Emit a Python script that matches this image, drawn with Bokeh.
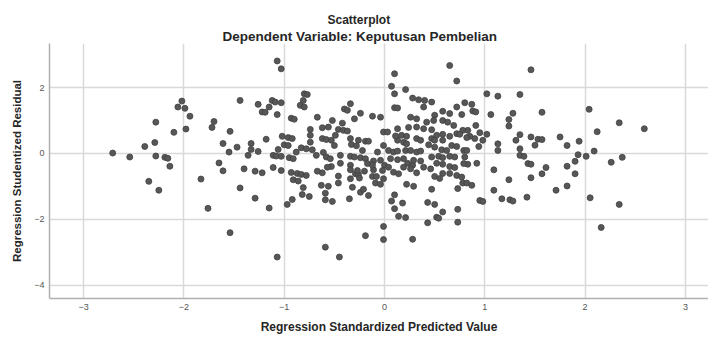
from bokeh.plotting import figure
from bokeh.models import Range1d, FixedTicker, Title, ColumnDataSource
from bokeh.embed import file_html
from bokeh.resources import INLINE

title_text = "Scatterplot"
subtitle_text = "Dependent Variable: Keputusan Pembelian"
x_label = "Regression Standardized Predicted Value"
y_label = "Regression Studentized Residual"
x_ticks = [-3, -2, -1, 0, 1, 2, 3]
y_ticks = [-4, -2, 0, 2]

predicted = [
    -2.71, -2.54, -2.28, -2.10, -2.02, -2.06, -1.99, -1.94, -1.98, -2.29,
    -2.39, -2.28, -2.19, -2.16, -2.14, -2.35, -2.25, -1.83, -1.70, -1.72,
    -1.54, -1.44, -1.26, -1.22, -1.19, -1.15, -1.18, -1.61, -1.55, -1.47,
    -1.33, -1.33, -1.36, -1.26, -1.65, -1.61, -1.40, -1.29, -1.22, -1.44,
    -1.29, -1.76, -1.15, -1.54, -1.11, -1.03, -0.93, -0.87, -0.83, -0.78,
    -0.91, -0.86, -0.81, -0.82, -0.75, -0.92, -0.97, -0.59, -0.52, -0.63,
    -0.56, -0.59, -0.46, -0.46, -0.53, -0.35, -0.24, -0.16, -0.32, -0.21,
    -0.09, -0.04, -0.12, -0.08, -0.01, -0.01, -0.19, -0.01, 0.28, -0.59,
    -0.45, -1.07, 0.10, 0.07, 0.18, 0.10, 0.14, 0.21, 0.43, 0.50,
    0.47, 0.58, 0.52, 0.54, 0.43, 0.73, 0.73, 0.73, 0.78, 0.32,
    0.22, 0.29, 0.50, 0.55, 0.58, 0.65, 0.72, 0.77, 0.52, 0.58,
    0.65, 0.70, 0.23, 0.28, 0.00, -0.34, -0.29, -0.26, -0.34, -0.25,
    -0.11, -0.02, -0.62, 0.83, 1.09, 1.24, 1.09, 1.17, 1.25, 1.28,
    0.95, 0.98, 1.42, 1.46, 1.43, 1.46, 1.57, 1.61, 1.82, 1.90,
    1.90, 1.71, 1.82, 2.05, 2.34, 2.16, 2.26, 0.82, 0.87, 1.46,
    1.02, 1.13, 1.35, 0.80, 0.87, 0.88, 0.91, 0.77, 1.06, 1.28,
    1.24, 1.24, 1.57, 2.04, 2.34, 2.59, 2.12, 0.91, 0.83, 0.85,
    0.95, 1.02, 0.90, 0.82, 0.98, 1.13, 0.94, 1.13, 1.35, 1.31,
    1.46, 1.53, 1.57, 1.50, 1.35, 1.35, 1.39, 1.75, 1.82, 1.94,
    2.09, 1.93, 2.01, 2.37, 0.80, 0.72, -1.07, -1.03, 0.65, 0.10,
    0.07, 0.10, 0.21, 0.28, 0.34, 0.40, 0.47, 0.39, 0.50, 0.58,
    0.65, 0.72, 0.10, 0.13, -0.80, -0.77, -0.81, -0.84, -0.80, -1.12,
    -1.09, -1.03, -1.07, -0.93, -0.90, -0.67, -0.34, -0.40, -0.37, -0.24,
    -0.30, -0.12, -0.04, -0.52, -0.42, -0.56, -0.74, -0.46, -0.41, -0.37,
    -0.01, 0.03, -0.74, -1.02, -0.96, -0.92, -1.06, -1.00, -0.96, -0.74,
    -0.62, -0.58, -0.53, -0.50, -0.83, -0.78, -0.72, -0.49, -0.34, -0.26,
    -0.19, -0.16, -0.33, -0.28, -0.22, -0.24, -0.19, 0.13, 0.17, 0.22,
    0.24, 0.32, 0.39, 0.47, 0.32, 0.42, 0.49, 0.26, 0.58, 0.63,
    0.69, 0.78, 0.72, 0.75, 0.13, 0.19, 0.22, 0.32, 0.36, 0.47,
    0.50, 0.58, 0.67, 0.72, -0.01, 0.04, 0.09, 0.13, 0.21, 0.26,
    0.32, 0.36, 0.50, 0.57, 0.62, 0.79, 0.82, -1.11, -1.08, -1.03,
    -0.95, -0.91, -0.58, -0.54, -0.68, -0.44, -0.34, -0.30, -0.11, -0.04,
    0.06, 0.13, 0.19, 0.29, 0.36, 0.47, 0.54, 0.58, 0.65, 0.70,
    -0.67, -0.57, -0.34, -0.27, -0.20, -0.17, -0.12, 0.04, 0.19, 0.26,
    0.39, 0.46, 0.79, -0.61, -0.44, -0.07, 0.11, 0.52, 0.44, 0.58,
    0.65, 0.92, 0.09, 0.14, -0.88, -0.62,
]

residual = [
    0.01, -0.11, 0.95, 0.64, 1.59, 1.41, 1.37, 1.13, 0.74, 0.33,
    0.21, -0.08, -0.12, -0.15, -0.39, -0.85, -1.12, -0.78, 0.97, 0.79,
    0.67, 1.61, 1.49, 1.26, 1.25, 1.41, 0.43, 0.30, 0.04, 0.19,
    0.30, 0.12, -0.06, 0.06, -0.29, -0.53, -0.47, -0.54, -0.59, -1.05,
    -1.36, -1.67, -1.66, -2.41, -0.43, -0.52, -0.58, -0.61, -0.64, -0.67,
    -0.80, -0.84, -1.04, -1.25, -1.31, -1.40, -1.55, -1.41, -1.46, -0.97,
    -1.00, -1.21, -0.69, -0.90, -0.40, -1.38, -1.18, -1.28, -1.03, -1.09,
    -0.90, -0.94, -0.70, -0.70, -0.77, -2.22, -2.50, -2.62, -2.61, -2.85,
    -3.15, -3.15, -1.26, -1.45, -1.51, -1.68, -1.91, -1.95, -1.49, -1.55,
    -1.09, -1.78, -1.94, -1.97, -2.11, -1.70, -2.09, -1.07, -0.90, -0.59,
    -0.94, -1.00, -0.70, -0.76, -0.61, -0.61, -0.67, -0.72, -0.30, -0.33,
    -0.40, -0.43, -0.30, -0.36, -0.36, -0.36, -0.62, -0.64, -0.77, -0.75,
    -0.50, -0.52, -0.59, -0.33, -0.50, -0.80, -1.12, -1.38, -1.41, -1.45,
    -1.43, -1.46, -1.33, -0.74, -0.31, -0.33, -0.62, -0.43, -0.39, -0.62,
    -0.24, -1.12, -0.99, -1.35, -1.55, -2.25, -0.27, -0.90, -0.97, 2.54,
    1.81, 1.74, 1.79, 1.54, 1.49, 1.29, 1.26, 1.18, 1.18, 1.22,
    1.03, 0.83, 1.25, 1.34, 0.93, 0.75, 0.66, 0.85, 0.70, 0.52,
    0.63, 0.58, 0.45, 0.48, 0.40, 0.29, 0.21, 0.09, 0.57, 0.40,
    0.50, 0.43, 0.42, 0.25, 0.14, -0.06, -0.09, 0.50, 0.24, 0.37,
    0.07, -0.04, -0.09, -0.12, -0.11, 2.20, 2.81, 2.57, 2.67, 2.42,
    2.04, 1.81, 1.94, 1.68, 1.63, 1.61, 1.56, 1.41, 1.16, 1.28,
    1.21, 1.41, 1.39, 1.38, 1.81, 1.79, 1.61, 1.46, 1.41, 1.61,
    1.56, 1.54, 1.18, 1.07, 1.04, 1.10, 1.51, 1.35, 1.31, 1.22,
    1.05, 1.13, 1.10, 1.00, 0.92, 0.80, 0.73, 0.73, 0.70, 0.68,
    0.65, 0.65, 0.55, 0.52, 0.48, 0.45, 0.12, 0.26, 0.24, 0.34,
    0.45, 0.42, 0.40, 0.24, 0.17, 0.14, 0.11, 0.55, 0.45, 0.40,
    0.37, 0.37, 0.27, 0.23, 0.09, -0.13, -0.16, 0.75, 0.55, 0.52,
    0.79, 0.80, 0.75, 0.72, 1.05, 0.95, 1.00, 1.10, 1.00, 0.95,
    0.85, 0.70, 0.60, 0.58, 0.40, 0.34, 0.29, 0.45, 0.40, 0.45,
    0.40, 0.40, 0.24, 0.21, 0.24, 0.09, 0.04, 0.07, 0.09, 0.09,
    0.04, 0.07, 0.19, 0.11, 0.09, 0.09, 0.09, -0.06, -0.08, -0.09,
    -0.13, -0.16, -0.11, -0.16, -0.06, -0.06, -0.09, -0.11, -0.23, -0.21,
    -0.16, -0.19, -0.16, -0.21, -0.23, -0.11, -0.09, -0.13, -0.09, -0.11,
    -0.54, -0.42, -0.50, -0.52, -0.54, -0.31, -0.36, -0.42, -0.42, -0.47,
    -0.42, -0.47, -0.31, 0.03, -0.30, 0.04, 0.53, 0.55, 0.26, 0.58,
    0.52, -0.30, -0.57, -0.62, 0.04, 0.78,
]

n = min(len(predicted), len(residual))
source = ColumnDataSource(data=dict(x=predicted[:n], y=residual[:n]))

FONT = "Liberation Sans"
TXT = "#262626"

p = figure(
    width=708, height=338,
    x_range=Range1d(-3.34, 3.23), y_range=Range1d(-4.41, 3.34),
    output_backend="svg", toolbar_location=None,
    min_border_left=49, min_border_right=0, min_border_top=43, min_border_bottom=40,
)
p.background_fill_color = "white"
p.border_fill_color = "white"
p.outline_line_color = None

p.scatter("x", "y", source=source, size=6, fill_color="#575757",
          line_color="#404040", line_width=0.8)

p.xaxis.ticker = FixedTicker(ticks=x_ticks)
p.yaxis.ticker = FixedTicker(ticks=y_ticks)
for ax in (p.xaxis, p.yaxis):
    ax.axis_line_color = "#b0b0b0"
    ax.axis_line_width = 1.5
    ax.major_tick_line_color = None
    ax.minor_tick_line_color = None
    ax.major_tick_out = 0
    ax.major_tick_in = 0
    ax.major_label_text_font = FONT
    ax.major_label_text_font_size = "9px"
    ax.major_label_text_color = "#555555"
    ax.major_label_standoff = 5
    ax.axis_label_text_font = FONT
    ax.axis_label_text_font_style = "bold"
    ax.axis_label_text_color = TXT

p.xaxis.axis_label = x_label
p.xaxis.axis_label_text_font_size = "12px"
p.xaxis.axis_label_standoff = 7
p.yaxis.axis_label = y_label
p.yaxis.axis_label_text_font_size = "11.5px"
p.yaxis.axis_label_standoff = 8
p.yaxis.major_label_orientation = 0

for g in (p.xgrid, p.ygrid):
    g.grid_line_color = "#d9d9d9"
    g.grid_line_width = 1.5

p.add_layout(Title(text=subtitle_text, align="left", offset=173, standoff=0,
                   text_font=FONT, text_font_style="bold", text_font_size="13.5px",
                   text_color=TXT), "above")
p.add_layout(Title(text=title_text, align="left", offset=278, standoff=0,
                   text_font=FONT, text_font_style="bold", text_font_size="12px",
                   text_color=TXT), "above")

open("out.html", "w").write(file_html(p, INLINE))
